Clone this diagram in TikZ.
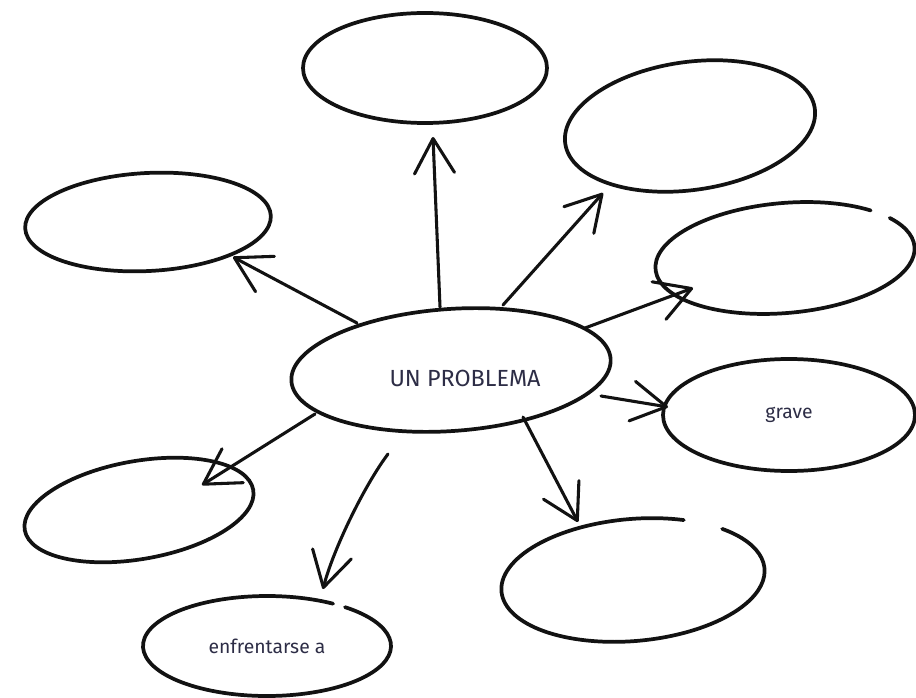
\documentclass[tikz,border=0pt]{standalone}
\usepackage{fontspec}
\setmainfont{Fira Sans}
\usetikzlibrary{shapes.geometric,arrows.meta}
\definecolor{inkc}{RGB}{18,18,18}
\definecolor{txtc}{RGB}{45,45,70}
\begin{document}
\begin{tikzpicture}[x=0.75pt,y=-0.75pt,
  blob/.style={ellipse, inner sep=0pt, outer sep=0pt, line width=2.8pt, draw=inkc, text=txtc},
  ghost/.style={blob, draw=none},
  outline/.style={line width=2.8pt, draw=inkc, line cap=round},
  arr/.style={line width=2.3pt, draw=inkc, line cap=round, line join=round, -{Straight Barb[length=26pt, width=30pt, round]}},
  lbl/.style={text=txtc, font=\fontsize{14.5}{17}\selectfont},
  biglbl/.style={text=txtc, font=\fontsize{17.5}{20}\selectfont}]
\fill[white] (0,0) rectangle (916,698);
\useasboundingbox (0,0) rectangle (916,698);

% ellipses
\node[blob, minimum width=183pt, minimum height=82.5pt] (top) at (425,68) {};
\node[blob, minimum width=189pt, minimum height=96pt, rotate=8] (ur) at (690,126) {};
\node[blob, minimum width=184.5pt, minimum height=73.5pt, rotate=3] (lft) at (148,222) {};
\node[ghost, minimum width=195pt, minimum height=82.5pt, rotate=5] (rgt) at (785,258) {};
\node[blob, minimum width=240pt, minimum height=91.5pt, rotate=4] (c) at (451,370) {};
\node[biglbl] (ctxt) at (465,378) {UN PROBLEMA};
\node[blob, lbl, minimum width=189pt, minimum height=84pt] (grv) at (789,415) {grave};
\node[blob, minimum width=174pt, minimum height=73.5pt, rotate=10] (ll) at (139,510) {};
\node[ghost, minimum width=198pt, minimum height=91.5pt, rotate=5] (lr) at (633,580) {};
\node[ghost, lbl, minimum width=186pt, minimum height=75pt] (bot) at (267,646) {enfrentarse a};

% hand-drawn outlines with a gap
\draw[outline, shift={(rgt.center)}, rotate=5] (46.5:97.5pt and 41.25pt) arc[start angle=46.5, end angle=394, x radius=97.5pt, y radius=41.25pt];
\draw[outline, shift={(lr.center)}, rotate=5] (65:99pt and 45.75pt) arc[start angle=65, end angle=405, x radius=99pt, y radius=45.75pt];
\draw[outline, shift={(bot.center)}] (57.8:93pt and 37.5pt) arc[start angle=57.8, end angle=411, x radius=93pt, y radius=37.5pt];

% connectors
\draw[arr] ([shift={(-11,-63)}]c.center) -- ([shift={(8,69)}]top.center);
\draw[arr] ([shift={(52,-65)}]c.center) -- ([shift={(-87,67)}]ur.center);
\draw[arr] ([shift={(-94,-47)}]c.center) -- ([shift={(85,35)}]lft.center);
\draw[arr] ([shift={(134,-42)}]c.center) -- ([shift={(-92,30)}]rgt.center);
\draw[arr] ([shift={(150,26)}]c.center) -- ([shift={(-121,-8)}]grv.center);
\draw[arr] ([shift={(72,47)}]c.center) -- ([shift={(-55,-58)}]lr.center);
\draw[arr] ([shift={(-136,44)}]c.center) -- ([shift={(63,-25)}]ll.center);
\draw[arr] ([shift={(-63,84)}]c.center) .. controls ([shift={(-87,116)}]c.center) and ([shift={(66,-96)}]bot.center) .. ([shift={(56,-57)}]bot.center);
\end{tikzpicture}
\end{document}
